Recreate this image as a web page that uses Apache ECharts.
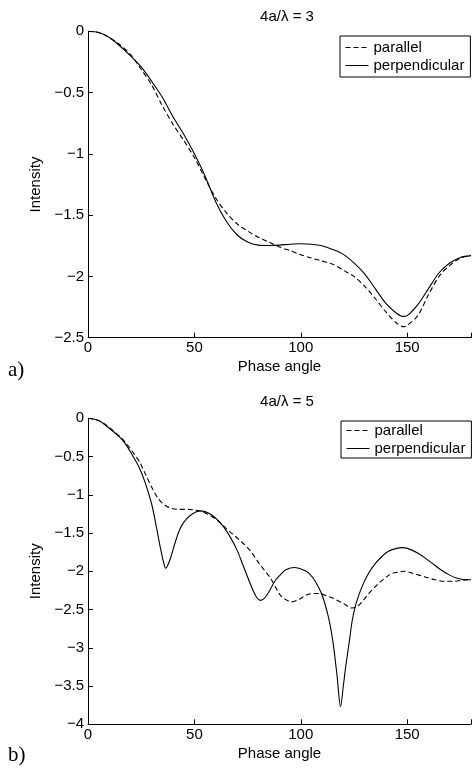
<!DOCTYPE html>
<html>
<head>
<meta charset="utf-8">
<script src="https://cdn.jsdelivr.net/npm/echarts@6/dist/echarts.min.js"></script>
<style>
html,body{margin:0;padding:0;background:#fff;}
#c{width:474px;height:775px;}
</style>
</head>
<body>
<div id="c"></div>
<script>
// Panel a) 4a/λ = 3
const titleA = '4a/\u03bb = 3';
const xParA = [0,5,10,15,20,25,30,35,40,45,50,55,60,65,70,75,80,85,90,95,100,105,110,115,120,125,130,135,140,145,148.5,150,155,160,165,170,175,180];
const yParA = [0,-0.01,-0.05,-0.11,-0.19,-0.31,-0.44,-0.61,-0.76,-0.89,-1.03,-1.20,-1.36,-1.48,-1.57,-1.63,-1.68,-1.72,-1.76,-1.79,-1.823,-1.85,-1.875,-1.90,-1.95,-2.0,-2.08,-2.18,-2.29,-2.38,-2.41,-2.40,-2.32,-2.15,-2.0,-1.91,-1.85,-1.83];
const xPerpA = [0,5,10,15,20,25,30,35,40,45,50,55,60,65,70,75,80,85,90,95,100,105,110,115,120,125,130,135,140,145,148,150,155,160,165,170,175,180];
const yPerpA = [0,-0.01,-0.05,-0.12,-0.20,-0.29,-0.41,-0.54,-0.70,-0.84,-1.0,-1.18,-1.39,-1.55,-1.66,-1.72,-1.745,-1.748,-1.745,-1.737,-1.733,-1.737,-1.75,-1.78,-1.82,-1.89,-1.98,-2.10,-2.22,-2.30,-2.326,-2.32,-2.23,-2.10,-1.97,-1.89,-1.845,-1.83];

// Panel b) 4a/λ = 5
const titleB = '4a/\u03bb = 5';
const xParB = [0,5,10,15,18,21,24.2,27,30.3,33,35,37,39.5,43,47.3,50,53.5,56,59.7,63,67.4,72,76.5,80,83,85.8,88,90.3,93,95.7,99,102.6,106,108.8,112,115,120,124.2,126.5,128.8,132,136.5,140,142.7,146,148.9,153,158.1,163,167.4,172,178.4,180];
const yParB = [0,-0.03,-0.12,-0.24,-0.33,-0.44,-0.57,-0.73,-0.92,-1.05,-1.11,-1.15,-1.18,-1.19,-1.19,-1.20,-1.22,-1.25,-1.31,-1.39,-1.50,-1.61,-1.74,-1.88,-1.99,-2.09,-2.20,-2.31,-2.37,-2.40,-2.37,-2.31,-2.29,-2.29,-2.32,-2.35,-2.42,-2.48,-2.46,-2.40,-2.29,-2.16,-2.08,-2.03,-2.01,-2.00,-2.03,-2.07,-2.11,-2.13,-2.13,-2.11,-2.11];
const xPerpB = [0,5,10,15,18,21,24,27,30,32,34,35.5,36.5,37.5,39,41,43,45,48,52.6,55,58,61,64,67,70,73,76.5,79,81,83,85,88,90.3,93,97,101,104,107,110,113,115,117,118.7,120,121.1,123,124.2,126,128.8,132,135,138,141,145,148,152,156.6,161,165.8,170,173.5,178.4,180];
const yPerpB = [0,-0.03,-0.13,-0.25,-0.35,-0.49,-0.64,-0.85,-1.13,-1.40,-1.69,-1.88,-1.96,-1.92,-1.81,-1.62,-1.46,-1.36,-1.27,-1.21,-1.22,-1.26,-1.33,-1.43,-1.56,-1.72,-1.93,-2.18,-2.33,-2.38,-2.35,-2.27,-2.12,-2.05,-1.98,-1.95,-1.98,-2.03,-2.14,-2.31,-2.60,-2.90,-3.35,-3.77,-3.50,-3.25,-2.88,-2.64,-2.42,-2.20,-2.02,-1.90,-1.81,-1.74,-1.70,-1.69,-1.72,-1.79,-1.88,-1.98,-2.05,-2.09,-2.11,-2.11];

const xTicks = [0,50,100,150];
const yTicksA = [0,-0.5,-1,-1.5,-2,-2.5];
const yTicksB = [0,-0.5,-1,-1.5,-2,-2.5,-3,-3.5,-4];
const seriesNames = ['parallel','perpendicular'];
const xName = 'Phase angle';
const yName = 'Intensity';
const panelLabels = ['a)','b)'];

const zip = (xs, ys) => xs.map((x, i) => [x, ys[i]]);
const FONT = 'Liberation Sans, Arial, Helvetica, sans-serif';
const FS = 15;
const fmtNum = v => (v < 0 ? '\u2212' : '') + String(Math.abs(v));

function xAxisCfg(gi) {
  return {
    gridIndex: gi, type: 'value', min: 0, max: 180, interval: 50,
    name: xName, nameLocation: 'middle', nameGap: 22,
    nameTextStyle: {fontFamily: FONT, fontSize: FS, color: '#000'},
    axisLine: {show: true, onZero: false, lineStyle: {color: '#000', width: 1}},
    axisTick: {show: true, inside: true, length: 5, lineStyle: {color: '#000'}},
    axisLabel: {fontFamily: FONT, fontSize: FS, color: '#000', margin: 3,
      formatter: v => xTicks.indexOf(v) >= 0 ? fmtNum(v) : ''},
    splitLine: {show: false}
  };
}
function yAxisCfg(gi, ticks) {
  return {
    gridIndex: gi, type: 'value', min: ticks[ticks.length-1], max: 0, interval: 0.5,
    name: yName, nameLocation: 'middle', nameGap: 34, nameRotate: 90,
    nameTextStyle: {fontFamily: FONT, fontSize: FS, color: '#000'},
    axisLine: {show: true, onZero: false, lineStyle: {color: '#000', width: 1}},
    axisTick: {show: true, inside: true, length: 5, lineStyle: {color: '#000'}},
    axisLabel: {fontFamily: FONT, fontSize: FS, color: '#000', margin: 4,
      formatter: v => ticks.indexOf(v) >= 0 ? fmtNum(v) : ''},
    splitLine: {show: false}
  };
}
function lineSeries(name, data, gi, dashed) {
  return {
    name: name, type: 'line', xAxisIndex: gi, yAxisIndex: gi,
    data: data, smooth: 0.3, symbol: 'none', showSymbol: false,
    lineStyle: {color: '#000', width: 1.1, type: dashed ? [5, 3] : 'solid'},
    itemStyle: {color: '#000'},
    emphasis: {disabled: true}, animation: false
  };
}
function legendCfg(left, top, pad) {
  return {
    show: true, orient: 'vertical', left: left, top: top,
    data: seriesNames,
    borderColor: '#000', borderWidth: 1, borderRadius: 0,
    padding: pad, itemGap: 3, itemWidth: 23, itemHeight: 14,
    itemStyle: {opacity: 0},
    lineStyle: {width: 1},
    textStyle: {fontFamily: FONT, fontSize: FS, color: '#000'},
    backgroundColor: '#fff',
    selectedMode: false
  };
}

const chart = echarts.init(document.getElementById('c'), null, {renderer: 'canvas'});
chart.setOption({
  animation: false,
  backgroundColor: '#fff',
  title: [
    {text: titleA, left: 282, top: 4, textAlign: 'center',
     textStyle: {fontFamily: FONT, fontSize: FS, fontWeight: 'normal', color: '#000'}},
    {text: titleB, left: 282, top: 389, textAlign: 'center',
     textStyle: {fontFamily: FONT, fontSize: FS, fontWeight: 'normal', color: '#000'}}
  ],
  grid: [
    {left: 88, top: 31.3, width: 387.7, height: 306.4},
    {left: 88, top: 418.3, width: 387.7, height: 306}
  ],
  xAxis: [xAxisCfg(0), xAxisCfg(1)],
  yAxis: [yAxisCfg(0, yTicksA), yAxisCfg(1, yTicksB)],
  legend: [
    legendCfg(340, 36, [4, 6, 4, 5]),
    legendCfg(341, 421, [2, 6, 2, 5])
  ],
  series: [
    lineSeries(seriesNames[0], zip(xParA, yParA), 0, true),
    lineSeries(seriesNames[1], zip(xPerpA, yPerpA), 0, false),
    lineSeries(seriesNames[0], zip(xParB, yParB), 1, true),
    lineSeries(seriesNames[1], zip(xPerpB, yPerpB), 1, false)
  ],
  graphic: [
    {type: 'text', left: 8, top: 360, style: {text: panelLabels[0], font: '21px "Liberation Serif", "DejaVu Serif", serif', fill: '#000'}},
    {type: 'text', left: 8, top: 745, style: {text: panelLabels[1], font: '21px "Liberation Serif", "DejaVu Serif", serif', fill: '#000'}}
  ]
});
</script>
</body>
</html>
